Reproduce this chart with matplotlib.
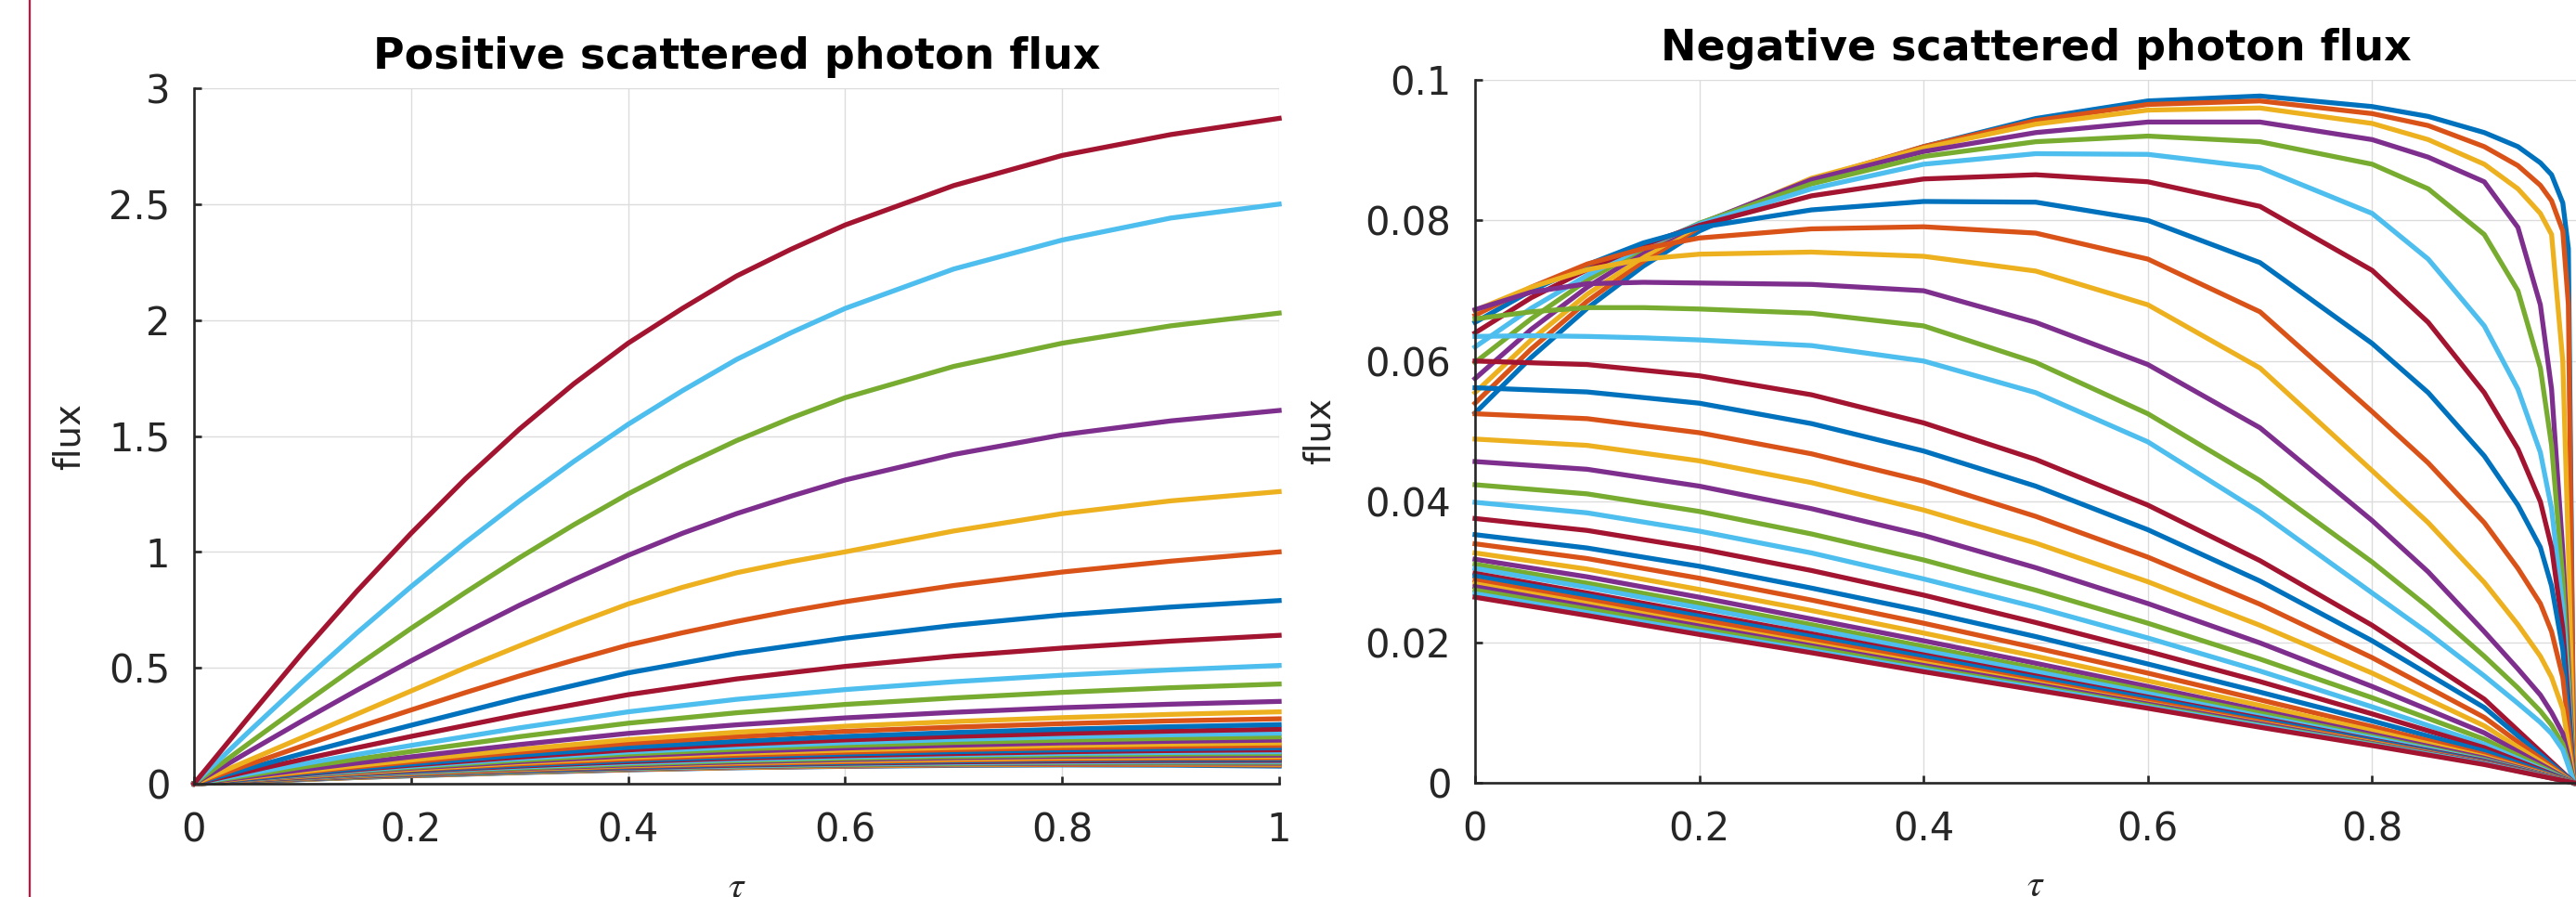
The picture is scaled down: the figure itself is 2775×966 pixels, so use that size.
import matplotlib
matplotlib.use("Agg")
import matplotlib.pyplot as plt
from matplotlib.lines import Line2D

plt.rcParams['font.family'] = ['DejaVu Sans']
plt.rcParams['mathtext.fontset'] = 'stix'

# ---------------- data ----------------
matlab_colors = ['#0072BD', '#D95319', '#EDB120', '#7E2F8E', '#77AC30', '#4DBEEE', '#A2142F']

x_ticks = [0, 0.2, 0.4, 0.6, 0.8, 1]
left_x_tick_labels = ['0', '0.2', '0.4', '0.6', '0.8', '1']
right_x_tick_labels = ['0', '0.2', '0.4', '0.6', '0.8', '']   # "1" lies outside the cropped picture
left_y_ticks = [0, 0.5, 1, 1.5, 2, 2.5, 3]
left_y_tick_labels = ['0', '0.5', '1', '1.5', '2', '2.5', '3']
right_y_ticks = [0, 0.02, 0.04, 0.06, 0.08, 0.1]
right_y_tick_labels = ['0', '0.02', '0.04', '0.06', '0.08', '0.1']

# positive flux, plotted bottom (first) to top (last)
tau_pos = [0, 0.05, 0.1, 0.15, 0.2, 0.3, 0.4, 0.5, 0.6, 0.7, 0.8, 0.9, 1.0]
pos_flux_lower = [
    [0, .009, .018, .027, .034, .048, .060, .069, .075, .079, .081, .080, .076],
    [0, .010, .019, .027, .035, .049, .061, .070, .076, .081, .083, .083, .080],
    [0, .010, .019, .028, .036, .050, .062, .071, .078, .083, .086, .086, .084],
    [0, .010, .020, .029, .037, .051, .063, .073, .080, .085, .088, .089, .088],
    [0, .010, .020, .029, .038, .052, .065, .075, .082, .087, .091, .092, .092],
    [0, .011, .021, .030, .039, .054, .067, .077, .085, .090, .094, .096, .096],
    [0, .011, .021, .031, .040, .056, .069, .080, .088, .094, .098, .100, .101],
    [0, .011, .022, .032, .041, .058, .072, .083, .091, .098, .103, .105, .106],
    [0, .012, .023, .033, .043, .060, .075, .086, .095, .102, .107, .110, .111],
    [0, .012, .024, .035, .045, .062, .078, .090, .099, .106, .112, .115, .117],
    [0, .013, .025, .036, .047, .065, .081, .094, .104, .112, .118, .121, .123],
    [0, .013, .026, .038, .049, .068, .085, .099, .109, .117, .124, .128, .130],
    [0, .014, .027, .040, .051, .072, .090, .104, .115, .124, .131, .135, .138],
    [0, .014, .028, .042, .054, .076, .095, .110, .121, .130, .138, .143, .146],
    [0, .015, .030, .044, .057, .080, .100, .116, .128, .138, .146, .151, .155],
    [0, .016, .031, .046, .060, .085, .106, .123, .136, .147, .155, .161, .165],
    [0, .017, .033, .048, .063, .090, .113, .131, .145, .156, .165, .171, .176],
    [0, .018, .035, .051, .067, .095, .120, .139, .154, .166, .176, .183, .188],
    [0, .019, .037, .054, .071, .101, .128, .149, .165, .178, .188, .196, .202],
    [0, .020, .039, .057, .075, .108, .137, .159, .177, .191, .202, .211, .218],
    [0, .021, .041, .061, .080, .115, .146, .170, .189, .204, .217, .227, .235],
    [0, .022, .044, .065, .085, .123, .157, .183, .204, .221, .235, .246, .255],
    [0, .025, .049, .072, .094, .136, .174, .203, .226, .244, .259, .271, .280],
    [0, .027, .053, .078, .102, .148, .190, .222, .248, .268, .285, .299, .310],
    [0, .030, .060, .089, .116, .169, .217, .254, .284, .308, .328, .343, .355],
    [0, .036, .072, .106, .139, .203, .261, .306, .342, .370, .394, .414, .430],
    [0, .043, .085, .126, .165, .241, .310, .364, .406, .440, .468, .491, .510],
    [0, .053, .105, .155, .204, .298, .384, .452, .506, .550, .585, .615, .640],
    [0, .066, .130, .192, .252, .370, .478, .562, .628, .683, .728, .762, .790],
]
tau_pos_fine = [0, 0.05, 0.1, 0.15, 0.2, 0.25, 0.3, 0.35, 0.4, 0.45, 0.5, 0.55,
                0.6, 0.7, 0.8, 0.9, 1.0]
pos_flux_upper = [
    [0, .082, .163, .242, .318, .393, .465, .533, .598, .651, .700, .745, .785, .855, .913, .960, 1.00],
    [0, .100, .200, .300, .400, .500, .595, .688, .775, .847, .910, .958, 1.00, 1.09, 1.165, 1.22, 1.26],
    [0, .137, .272, .403, .530, .652, .770, .880, .985, 1.08, 1.165, 1.24, 1.31, 1.42, 1.505, 1.565, 1.61],
    [0, .172, .342, .508, .670, .825, .975, 1.117, 1.25, 1.37, 1.48, 1.577, 1.665, 1.80, 1.90, 1.975, 2.03],
    [0, .222, .440, .650, .850, 1.04, 1.22, 1.39, 1.55, 1.695, 1.83, 1.945, 2.05, 2.22, 2.345, 2.44, 2.50],
    [0, .285, .565, .830, 1.08, 1.315, 1.53, 1.725, 1.90, 2.05, 2.19, 2.305, 2.41, 2.58, 2.71, 2.80, 2.87],
]

# negative flux, plotted top (first) to bottom (last)
tau_neg_fine = [0, 0.05, 0.1, 0.15, 0.2, 0.3, 0.4, 0.5, 0.6, 0.7, 0.8, 0.85,
                0.9, 0.93, 0.95, 0.96, 0.97, 0.975, 0.98]
neg_flux_upper = [
    [.0526, .0605, .0675, .0735, .0785, .0855, .0905, .0945, .0970, .0977, .0962, .0948, .0925, .0905, .0882, .0865, .0825, .0760, 0],
    [.0540, .0617, .0685, .0742, .0790, .0858, .0905, .0942, .0965, .0970, .0952, .0935, .0905, .0878, .0850, .0828, .0785, .0680, 0],
    [.0555, .0630, .0695, .0748, .0793, .0860, .0903, .0937, .0957, .0960, .0938, .0915, .0880, .0845, .0810, .0780, .0600, .0330, 0],
    [.0575, .0645, .0705, .0755, .0795, .0858, .0898, .0925, .0940, .0940, .0915, .0890, .0855, .0790, .0680, .0560, .0330, .0170, 0],
    [.0598, .0660, .0715, .0760, .0796, .0852, .0891, .0912, .0920, .0912, .0880, .0845, .0780, .0700, .0590, .0480, .0290, .0150, 0],
    [.0620, .0675, .0722, .0762, .0795, .0845, .0880, .0895, .0894, .0875, .0810, .0745, .0650, .0560, .0470, .0390, .0250, .0130, 0],
    [.0640, .0690, .0730, .0765, .0793, .0835, .0859, .0865, .0855, .0820, .0729, .0655, .0555, .0475, .0400, .0335, .0220, .0115, 0],
    [.0655, .0700, .0737, .0768, .0790, .0815, .0827, .0826, .0800, .0740, .0625, .0555, .0465, .0395, .0335, .0280, .0190, .0100, 0],
    [.0665, .0705, .0738, .0760, .0775, .0788, .0791, .0782, .0745, .0670, .0528, .0455, .0370, .0305, .0255, .0215, .0150, .0080, 0],
    [.0672, .0705, .0730, .0745, .0752, .0755, .0749, .0728, .0680, .0590, .0444, .0370, .0285, .0225, .0180, .0150, .0105, .0055, 0],
    [.0673, .0698, .0710, .0712, .0711, .0709, .0700, .0655, .0595, .0505, .0373, .0300, .0215, .0162, .0125, .0100, .0070, .0037, 0],
    [.0660, .0670, .0676, .0676, .0674, .0668, .0650, .0598, .0525, .0430, .0314, .0250, .0180, .0135, .0102, .0082, .0055, .0029, 0],
    [.0635, .0636, .0635, .0633, .0630, .0622, .0600, .0555, .0485, .0385, .0270, .0213, .0152, .0113, .0086, .0070, .0047, .0024, 0],
]
tau_neg_coarse = [0, 0.1, 0.2, 0.3, 0.4, 0.5, 0.6, 0.7, 0.8, 0.9, 0.98]
neg_flux_lower = [
    [.0600, .0595, .0579, .0552, .0512, .0460, .0395, .0316, .0224, .0119, 0],
    [.0562, .0556, .0540, .0511, .0472, .0422, .0360, .0287, .0202, .0107, 0],
    [.0525, .0518, .0498, .0468, .0429, .0379, .0321, .0254, .0178, .0093, 0],
    [.0489, .0480, .0458, .0427, .0388, .0341, .0286, .0224, .0156, .0081, 0],
    [.0457, .0446, .0422, .0390, .0352, .0306, .0255, .0199, .0137, .0071, 0],
    [.0424, .0411, .0386, .0354, .0317, .0274, .0227, .0176, .0121, .0062, 0],
    [.0399, .0384, .0358, .0327, .0290, .0250, .0206, .0159, .0108, .0055, 0],
    [.0376, .0359, .0333, .0302, .0267, .0228, .0187, .0144, .0098, .0050, 0],
    [.0353, .0334, .0308, .0277, .0244, .0208, .0169, .0129, .0088, .0045, 0],
    [.0340, .0319, .0291, .0260, .0227, .0192, .0156, .0118, .0080, .0040, 0],
    [.0327, .0304, .0275, .0245, .0213, .0180, .0145, .0110, .0074, .0037, 0],
    [.0318, .0293, .0264, .0233, .0202, .0170, .0137, .0103, .0069, .0035, 0],
    [.0311, .0284, .0255, .0225, .0194, .0163, .0131, .0099, .0066, .0033, 0],
    [.0305, .0278, .0249, .0219, .0188, .0158, .0127, .0095, .0064, .0032, 0],
    [.0298, .0270, .0241, .0212, .0182, .0152, .0122, .0092, .0061, .0031, 0],
    [.0294, .0266, .0237, .0208, .0179, .0149, .0120, .0090, .0060, .0030, 0],
    [.0288, .0260, .0232, .0203, .0174, .0145, .0116, .0087, .0058, .0029, 0],
    [.0283, .0255, .0226, .0198, .0170, .0142, .0113, .0085, .0057, .0028, 0],
    [.0279, .0251, .0223, .0195, .0167, .0140, .0112, .0084, .0056, .0028, 0],
    [.0274, .0247, .0219, .0192, .0164, .0137, .0110, .0082, .0055, .0027, 0],
    [.0269, .0242, .0215, .0188, .0161, .0135, .0108, .0081, .0054, .0027, 0],
    [.0264, .0238, .0211, .0185, .0158, .0132, .0106, .0079, .0053, .0026, 0],
]

titles = ['Positive scattered photon flux', 'Negative scattered photon flux']

# ---------------- figure ----------------
W, H = 2775, 966
fig = plt.figure(figsize=(W / 100, H / 100), dpi=100, facecolor='white')

axL = fig.add_axes([209 / W, (H - 844) / H, 1169 / W, 749 / H])
axR = fig.add_axes([1589 / W, (H - 843) / H, 1208 / W, 757 / H])

LW = 3.8
k = 0
for ys in pos_flux_lower:
    axL.plot(tau_pos, ys, color=matlab_colors[k % 7], lw=LW, clip_on=False)
    k += 1
for ys in pos_flux_upper:
    axL.plot(tau_pos_fine, ys, color=matlab_colors[k % 7], lw=LW, clip_on=False)
    k += 1

k = 0
for ys in neg_flux_upper:
    axR.plot(tau_neg_fine, ys, color=matlab_colors[k % 7], lw=LW, clip_on=False)
    k += 1
for ys in neg_flux_lower:
    axR.plot(tau_neg_coarse, ys, color=matlab_colors[k % 7], lw=LW, clip_on=False)
    k += 1

tick_col = '#262626'
for ax, xtl, yt, ytl, ylim, title, lab_x, tau_y in [
        (axL, left_x_tick_labels, left_y_ticks, left_y_tick_labels, (0, 3), titles[0], -0.099, -0.120),
        (axR, right_x_tick_labels, right_y_ticks, right_y_tick_labels, (0, 0.1), titles[1], -0.123, -0.117)]:
    ax.set_xlim(0, 1)
    ax.set_ylim(*ylim)
    ax.set_xticks(x_ticks)
    ax.set_xticklabels(xtl)
    ax.set_yticks(yt)
    ax.set_yticklabels(ytl)
    ax.set_axisbelow(True)
    ax.grid(True, color='#dcdcdc', lw=1.0)
    for s in ['top', 'right']:
        ax.spines[s].set_visible(False)
    for s in ['left', 'bottom']:
        ax.spines[s].set_color(tick_col)
        ax.spines[s].set_linewidth(1.9)
    ax.tick_params(axis='both', direction='in', length=6, width=1.9,
                   colors=tick_col, labelsize=30, labelcolor=tick_col)
    ax.tick_params(axis='x', pad=21)
    ax.tick_params(axis='y', pad=18.5)
    ax.set_title(title, fontsize=33, fontweight='bold', pad=15, color='black')
    ax.set_ylabel('flux', fontsize=28, color=tick_col)
    ax.yaxis.set_label_coords(lab_x, 0.5)
    ax.set_xlabel(r'$\tau$', fontsize=30, color=tick_col)
    ax.xaxis.set_label_coords(0.5, tau_y)
    ax.patch.set_alpha(0)

# red vertical border line at the left edge of the picture
fig.add_artist(Line2D([32 / W, 32 / W], [0, 1], transform=fig.transFigure,
                      color='#c8143c', lw=1.6))

fig.savefig('out.png', dpi=100, facecolor='white')
